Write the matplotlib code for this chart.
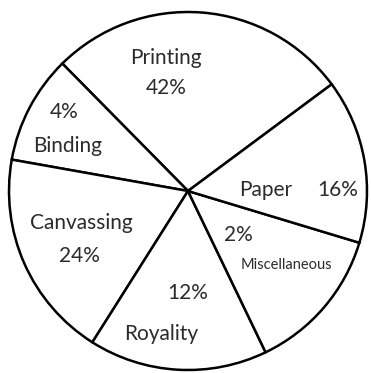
import matplotlib.pyplot as plt

# labels shown on the chart
categories = ["Printing", "Binding", "Canvassing", "Royality", "Miscellaneous", "Paper"]
percents = ["42%", "4%", "24%", "12%", "2%", "16%"]
drawn_deg = [98.0, 35.3, 67.8, 58.0, 47.5, 53.4]

W, H = 371, 373


def py(y):
    # image pixel row -> data y
    return H - y


fig = plt.figure(figsize=(W / 100, H / 100), dpi=100)
ax = fig.add_axes([0, 0, 1, 1])
ax.set_xlim(0, W)
ax.set_ylim(0, H)
ax.set_aspect("equal")
ax.axis("off")

ax.pie(drawn_deg, startangle=36.6, counterclock=True, center=(188, py(191)),
       radius=179, colors=["white"] * len(drawn_deg),
       wedgeprops=dict(edgecolor="black", linewidth=1.8))
ax.set_xlim(0, W)
ax.set_ylim(0, H)

fam = "Lato"
tc = "#2b2b2b"
fs = 15
ax.text(166, py(58), categories[0], ha="center", va="center", fontsize=fs, color=tc, family=fam)
ax.text(166, py(88), percents[0], ha="center", va="center", fontsize=fs, color=tc, family=fam)
ax.text(64, py(112), percents[1], ha="center", va="center", fontsize=fs, color=tc, family=fam)
ax.text(68, py(146), categories[1], ha="center", va="center", fontsize=fs, color=tc, family=fam)
ax.text(81, py(223), categories[2], ha="center", va="center", fontsize=fs, color=tc, family=fam)
ax.text(79, py(256), percents[2], ha="center", va="center", fontsize=fs, color=tc, family=fam)
ax.text(188, py(293), percents[3], ha="center", va="center", fontsize=fs, color=tc, family=fam)
ax.text(161, py(334), categories[3], ha="center", va="center", fontsize=fs, color=tc, family=fam)
ax.text(238, py(235), percents[4], ha="center", va="center", fontsize=fs, color=tc, family=fam)
ax.text(286, py(265), categories[4], ha="center", va="center", fontsize=10.5, color=tc, family=fam)
ax.text(266, py(190), categories[5], ha="center", va="center", fontsize=fs, color=tc, family=fam)
ax.text(338, py(190), percents[5], ha="center", va="center", fontsize=fs, color=tc, family=fam)

fig.savefig("out.png", dpi=100, facecolor="white")
